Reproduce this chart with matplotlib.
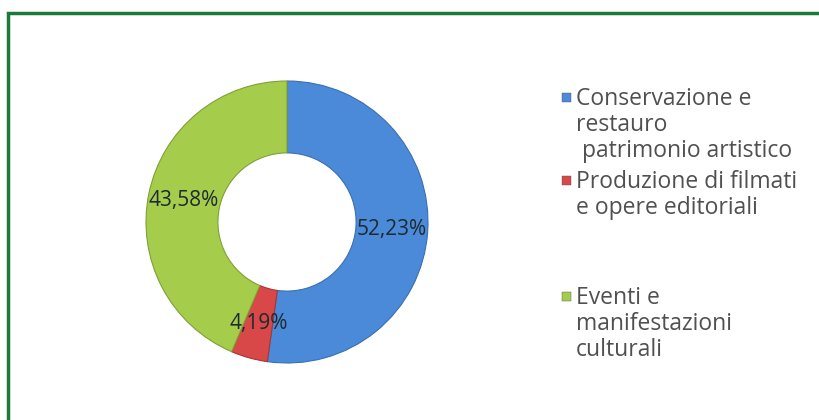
import matplotlib.pyplot as plt
from matplotlib.patches import Rectangle

# Ripartizione dei contributi per settore
labels = ['Conservazione e\nrestauro\n patrimonio artistico',
          'Produzione di filmati\ne opere editoriali',
          'Eventi e\nmanifestazioni\nculturali']
values = [52.23, 4.19, 43.58]
colors = ['#4a8ad8', '#d94848', '#a6cc4c']
edges = ['#3a6fb0', '#a83535', '#7fa036']

fig = plt.figure(figsize=(8.19, 4.2), dpi=100)
fig.patch.set_facecolor('white')

# cornice verde (solo lati sinistro e superiore visibili)
fig.patches.append(Rectangle((8 / 819, -0.1), 1.2, (420 - 13) / 420 + 0.1,
                             transform=fig.transFigure, fill=False,
                             edgecolor='#1a7a3a', linewidth=2.5))

ax = fig.add_axes([(287 - 141) / 819, (420 - 222 - 141) / 420, 282 / 819, 282 / 420])
wedges, _, autotexts = ax.pie(values, colors=colors, startangle=90, counterclock=False,
                              radius=1.0, pctdistance=0.745,
                              autopct=lambda p: ('%.2f%%' % p).replace('.', ','),
                              wedgeprops=dict(width=0.51, linewidth=0.8))
for w, ec in zip(wedges, edges):
    w.set_edgecolor(ec)
for t in autotexts:
    t.set_fontsize(15)
    t.set_color('#1e2a30')
    t.set_family('Open Sans')
ax.set_xlim(-1, 1)
ax.set_ylim(-1, 1)
ax.set_aspect('equal')

# legenda disegnata a mano
leg_y = [98, 181, 297]
for lab, c, y in zip(labels, colors, leg_y):
    fig.patches.append(Rectangle((562 / 819, 1 - (y + 4) / 420), 9 / 819, 9 / 420,
                                 transform=fig.transFigure, facecolor=c,
                                 edgecolor='#555555', linewidth=0.3))
    fig.text(576 / 819, 1 - (y - 11) / 420, lab, ha='left', va='top',
             fontsize=16.5, color='#505050', family='Open Sans', linespacing=1.1)

fig.savefig('out.png', dpi=100)
